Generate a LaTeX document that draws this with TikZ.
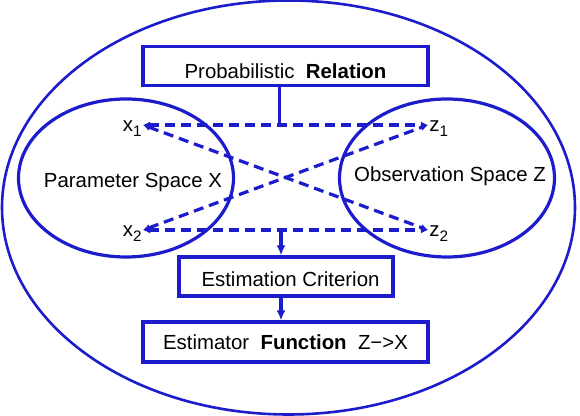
\documentclass[tikz,border=0pt]{standalone}
\usepackage{fontspec}
\setmainfont{Liberation Sans}
\usetikzlibrary{calc,arrows.meta,positioning,shapes.geometric}
\definecolor{lineBlue}{RGB}{28,28,205}
\newcommand{\diagfont}{\fontsize{10.2}{12}\selectfont}
\newcommand{\lowidx}[1]{\raisebox{-0.45ex}{\fontsize{7.6}{9}\selectfont #1}}

\begin{document}
\begin{tikzpicture}[x=0.5pt, y=-0.5pt,
        box/.style={draw=lineBlue, line width=1.6pt, minimum width=142.5pt, minimum height=19.5pt, inner sep=0pt, font=\diagfont},
        space/.style={draw=lineBlue, line width=1.6pt, ellipse, minimum width=107.5pt, minimum height=79pt, inner sep=0pt},
        idx/.style={inner sep=0.5pt, text height=9pt, text depth=2pt, font=\diagfont},
        arr/.style={-{Latex[length=5pt,width=4.5pt]}, line width=1.6pt, lineBlue},
        link/.style={{Latex[length=3.5pt,width=3.5pt]}-{Latex[length=3.5pt,width=3.5pt]}, dash pattern=on 5pt off 3pt, line width=1.6pt, lineBlue}
      ]
      \useasboundingbox (0,0) rectangle (580,416);
      \node[ellipse, draw=lineBlue, line width=1.3pt, minimum width=286.5pt, minimum height=207pt] (world) at (288.5,207.5) {};

      \node[box, text height=12.4pt, text depth=0pt] (rel) at (285.5,66) {Probabilistic\ \ \textbf{Relation}};
      \node[space, label={[font=\diagfont, xshift=3.5pt, yshift=-2pt]center:Parameter Space X}] (param) at (126,178) {};
      \node[space, label={[font=\diagfont, xshift=1.5pt, yshift=1pt]center:Observation Space Z}] (obs) at (447,178) {};

      \node[idx, anchor=east] (x1) at (143,125) {x\lowidx{1}};
      \node[idx, anchor=east] (x2) at (143,230) {x\lowidx{2}};
      \node[idx, anchor=west] (z1) at (428,125) {z\lowidx{1}};
      \node[idx, anchor=west] (z2) at (428,230) {z\lowidx{2}};

      \node[box, minimum width=107pt, text height=9.9pt, text depth=0pt] (crit) at (286,276.5) {\hspace*{4.5pt}Estimation Criterion};
      \node[box, minimum height=20pt] (est) at (285.5,342) {Estimator\ \ \textbf{Function}\ \ Z−>X};

      % dashed relations between the two spaces
      \draw[link] (x1.east) -- (z1.west);
      \draw[link] (x2.east) -- (z2.west);
      \draw[link] (x1.east) -- (z2.west);
      \draw[link] (x2.east) -- (z1.west);

      \coordinate (relout) at ([xshift=-3pt]rel.south);
      \coordinate (critin) at ([xshift=-2.5pt]crit.north);
      \coordinate (critout) at ([xshift=-2.5pt]crit.south);
      \draw[line width=1.6pt, lineBlue] (relout) -- (relout |- x1.east);
      \draw[arr] (critin |- x2.east) -- (critin);
      \draw[arr] (critout) -- (critout |- est.north);
    \end{tikzpicture}
\end{document}
